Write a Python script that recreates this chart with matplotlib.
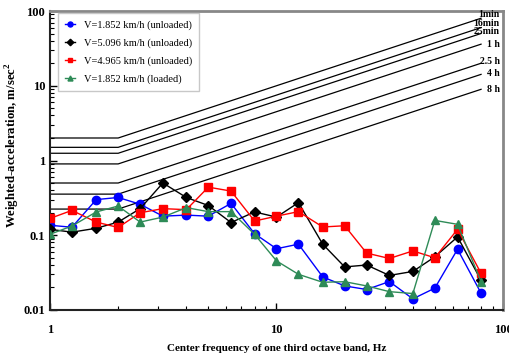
import matplotlib
matplotlib.use("Agg")
import matplotlib.pyplot as plt
import numpy as np

freqs = [1, 1.25, 1.6, 2, 2.5, 3.15, 4, 5, 6.3, 8, 10, 12.5, 16, 20, 25, 31.5, 40, 50, 63, 80]

blue_v1852_unl = [0.136, 0.128, 0.30, 0.32, 0.26, 0.18, 0.186, 0.18, 0.267, 0.105, 0.066,
                  0.076, 0.0277, 0.021, 0.0188, 0.024, 0.0141, 0.0196, 0.065, 0.0168]
black_v5096_unl = [0.12, 0.11, 0.124, 0.15, 0.227, 0.50, 0.32, 0.25, 0.148, 0.205, 0.175,
                   0.273, 0.076, 0.0377, 0.040, 0.029, 0.0328, 0.0514, 0.095, 0.025]
red_v4965_unl = [0.168, 0.215, 0.15, 0.127, 0.20, 0.227, 0.22, 0.44, 0.39, 0.155, 0.18,
                 0.207, 0.129, 0.134, 0.0577, 0.0489, 0.0617, 0.050, 0.12, 0.031]
green_v1852_ld = [0.103, 0.133, 0.205, 0.246, 0.15, 0.175, 0.234, 0.207, 0.207, 0.103, 0.0454,
                  0.030, 0.0235, 0.0239, 0.021, 0.0176, 0.0166, 0.158, 0.14, 0.024]

series_labels = ["V=1.852 km/h (unloaded)", "V=5.096 km/h (unloaded)",
                 "V=4.965 km/h (unloaded)", "V=1.852 km/h (loaded)"]

# ISO 2631 fatigue-decreased proficiency boundaries (flat 1-2 Hz, then prop. to f up to 80 Hz)
limit_labels = ["1min", "16min", "25min", "1 h", "2.5 h", "4 h", "8 h"]
limit_base = [2.0, 1.5, 1.25, 0.9, 0.5, 0.355, 0.224]
limit_freqs = [1, 2, 80]

serif = ["Liberation Serif", "DejaVu Serif"]
plt.rcParams["font.family"] = serif
plt.rcParams["mathtext.fontset"] = "custom"
plt.rcParams["mathtext.rm"] = "Liberation Serif:bold"
plt.rcParams["mathtext.bf"] = "Liberation Serif:bold"

fig = plt.figure(figsize=(5.1, 3.6), dpi=100)
ax = fig.add_axes([50/510, 1 - 310/360, 453/510, 299/360])

for lab, base in zip(limit_labels, limit_base):
    vals = [base, base, base * limit_freqs[2] / limit_freqs[1]]
    ax.plot(limit_freqs, vals, color="black", lw=0.9, zorder=1)

styles = [
    (blue_v1852_unl, "#0000ff", "o", 6),
    (black_v5096_unl, "#000000", "D", 5.5),
    (red_v4965_unl, "#ff0000", "s", 6),
    (green_v1852_ld, "#2e8b57", "^", 6),
]
for (vals, col, mk, ms), lab in zip(styles, series_labels):
    ax.plot(freqs, vals, color=col, marker=mk, markersize=ms, lw=1.0,
            markeredgecolor=col, label=lab, zorder=3)

ax.set_xscale("log")
ax.set_yscale("log")
ax.set_xlim(1, 100)
ax.set_ylim(0.01, 100)

ax.set_xticks([1, 10, 100])
ax.set_xticklabels(["1", "10", "100"])
ax.set_yticks([0.01, 0.1, 1, 10, 100])
ax.set_yticklabels(["0.01", "0.1", "1", "10", "100"])
for t in ax.get_xticklabels() + ax.get_yticklabels():
    t.set_fontweight("bold")
    t.set_fontsize(9)

ax.tick_params(which="both", direction="in", top=False, right=False)
ax.tick_params(which="major", length=5, width=1)
ax.tick_params(which="minor", length=3, width=0.8)
ax.tick_params(axis="x", pad=10)
ax.minorticks_on()

for s in ["left", "bottom"]:
    ax.spines[s].set_linewidth(1.5)
    ax.spines[s].set_color("#222222")
for s in ["top", "right"]:
    ax.spines[s].set_linewidth(2)
    ax.spines[s].set_color("#888888")

ax.set_xlabel("Center frequency of one third octave band, Hz", fontsize=8, fontweight="bold", labelpad=6)
ax.set_ylabel("Weighted-acceleration, m/sec$^{2}$", fontsize=9.2, fontweight="bold")
ax.yaxis.set_label_coords(-0.062, 0.55)

# curve labels at the right end, right-aligned inside the axes
label_lift = [1.12, 1.15, 1.08, 1.0, 1.06, 1.02, 0.98]
for lab, base, lift in zip(limit_labels, limit_base, label_lift):
    yv = base * limit_freqs[2] / limit_freqs[1] * lift
    ax.text(0.993, yv, lab, transform=ax.get_yaxis_transform(),
            fontsize=7, fontweight="bold", ha="right", va="center")

leg = ax.legend(loc="upper left", bbox_to_anchor=(0.017, 0.993), borderaxespad=0,
                prop={"family": serif, "size": 7.5}, frameon=True, shadow=False,
                handlelength=1.0, handletextpad=0.8, labelspacing=0.8, borderpad=0.7,
                fancybox=False, markerscale=0.6)
leg.get_frame().set_edgecolor("#bbbbbb")
leg.get_frame().set_linewidth(1.0)

fig.savefig("out.png", dpi=100)
